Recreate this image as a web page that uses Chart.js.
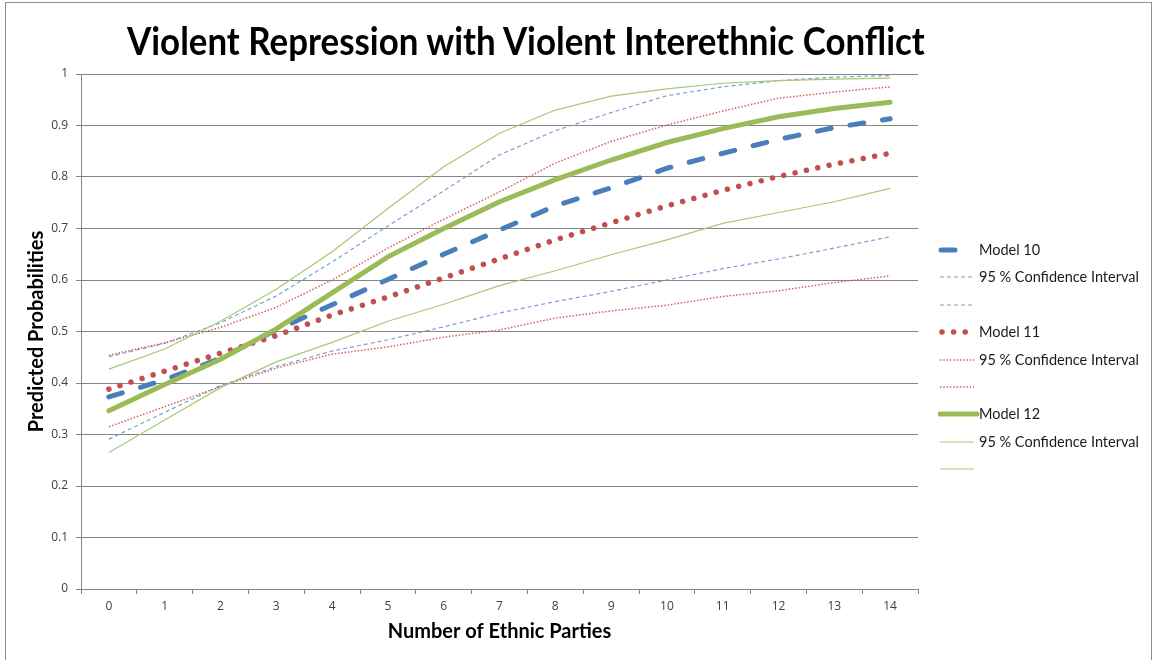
<!DOCTYPE html>
<html>
<head>
<meta charset="utf-8">
<title>Violent Repression with Violent Interethnic Conflict</title>
<script src="https://cdn.jsdelivr.net/npm/chart.js@4.4.1/dist/chart.umd.min.js"></script>
<style>
  html, body { margin: 0; padding: 0; background: #fff; }
  #wrap { position: relative; width: 1155px; height: 660px; overflow: hidden; }
  #frame { position: absolute; left: 5px; top: 2px; width: 1145px; height: 720px; border: 1px solid #8e8e8e; }
  #title {
    position: absolute; left: 526px; top: 16px; white-space: nowrap;
    font-family: Lato, "Open Sans", sans-serif;
    font-weight: bold; font-size: 39px; line-height: 48px; color: #000;
    transform-origin: 0 0;
  }
  #chart { position: absolute; left: 0; top: 0; }
  .row { position: absolute; left: 938px; height: 20px; }
  .row svg { position: absolute; left: 0; top: 4px; }
  .row span {
    position: absolute; left: 41px; top: 0px; white-space: nowrap;
    font-family: Lato, "Open Sans", sans-serif; font-size: 14.5px; line-height: 20px; color: #1a1a1a;
  }
</style>
</head>
<body>
<div id="wrap">
  <div id="frame"></div>
  <canvas id="chart" width="1155" height="660"></canvas>
  <div id="title">Violent Repression with Violent Interethnic Conflict</div>
  <div id="legend"></div>
</div>
<script>
// values
const categories = ['0', '1', '2', '3', '4', '5', '6', '7', '8', '9', '10', '11', '12', '13', '14'];
const yTickLabels = ['0', '0.1', '0.2', '0.3', '0.4', '0.5', '0.6', '0.7', '0.8', '0.9', '1'];

const model10 = [0.373, 0.406, 0.448, 0.503, 0.552, 0.601, 0.650, 0.697, 0.744, 0.779, 0.817, 0.846, 0.873, 0.896, 0.913];
const model10Upper = [0.451, 0.477, 0.517, 0.569, 0.635, 0.705, 0.773, 0.843, 0.890, 0.925, 0.958, 0.975, 0.987, 0.994, 0.997];
const model10Lower = [0.291, 0.343, 0.395, 0.432, 0.462, 0.484, 0.509, 0.536, 0.558, 0.578, 0.600, 0.622, 0.641, 0.662, 0.684];

const model11 = [0.388, 0.423, 0.458, 0.492, 0.532, 0.567, 0.604, 0.641, 0.678, 0.711, 0.744, 0.774, 0.801, 0.825, 0.846];
const model11Upper = [0.454, 0.478, 0.508, 0.547, 0.600, 0.662, 0.718, 0.771, 0.827, 0.869, 0.901, 0.928, 0.953, 0.965, 0.975];
const model11Lower = [0.315, 0.354, 0.393, 0.429, 0.456, 0.470, 0.489, 0.503, 0.526, 0.540, 0.551, 0.568, 0.579, 0.595, 0.608];

const model12 = [0.346, 0.397, 0.446, 0.505, 0.575, 0.645, 0.700, 0.752, 0.795, 0.833, 0.867, 0.894, 0.917, 0.933, 0.945];
const model12Upper = [0.427, 0.466, 0.520, 0.582, 0.655, 0.739, 0.820, 0.885, 0.930, 0.957, 0.971, 0.982, 0.987, 0.990, 0.992];
const model12Lower = [0.265, 0.328, 0.391, 0.441, 0.479, 0.520, 0.553, 0.589, 0.618, 0.649, 0.678, 0.710, 0.731, 0.752, 0.778];

const ciLabel = '95 % Confidence Interval';

// line style helper
const line = (label, data, color, width, dash, cap, sample) => ({
  label,
  data,
  borderColor: color,
  backgroundColor: color,
  borderWidth: width,
  borderDash: dash,
  borderCapStyle: cap,
  pointRadius: 0,
  pointHoverRadius: 0,
  tension: 0,
  fill: false,
  sample
});

// sample = [x1, x2] of the legend swatch
const datasets = [
  line('Model 10', model10, '#4a7ebb', 5, [14, 19], 'round', [3, 18]),
  line(ciLabel, model10Upper, '#7a9fd4', 1.2, [4, 3], 'butt', [2, 36]),
  line('', model10Lower, '#7a9fd4', 1.2, [4, 3], 'butt', [2, 36]),
  line('Model 11', model11, '#c0504d', 5.5, [0.01, 11.6], 'round', [4, 30]),
  line(ciLabel, model11Upper, '#d4605e', 1.5, [1.5, 1.8], 'butt', [2, 36]),
  line('', model11Lower, '#d4605e', 1.5, [1.5, 1.8], 'butt', [2, 36]),
  line('Model 12', model12, '#9bbb59', 5, [], 'round', [2, 39]),
  line(ciLabel, model12Upper, '#a9c774', 1.2, [], 'butt', [2, 36]),
  line('', model12Lower, '#a9c774', 1.2, [], 'butt', [2, 36])
];
// later series on top, like the original
datasets.forEach((d, i) => { d.order = datasets.length - i; });

const axisGrey = '#868686';
const tickFont = { family: 'Open Sans', size: 12 };
const axisTitleFont = { family: 'Lato', weight: 'bold', size: 20 };

new Chart(document.getElementById('chart').getContext('2d'), {
  type: 'line',
  data: { labels: categories, datasets },
  options: {
    responsive: false,
    animation: false,
    events: [],
    layout: { padding: { left: 8, right: 237, top: 74, bottom: 8 } },
    plugins: {
      legend: { display: false },
      tooltip: { enabled: false },
      title: { display: false }
    },
    scales: {
      x: {
        offset: true,
        grid: { offset: true, drawOnChartArea: false, drawTicks: true, tickLength: 5, color: axisGrey },
        border: { color: axisGrey },
        ticks: { color: '#404040', font: tickFont, padding: 5, maxRotation: 0, autoSkip: false },
        title: {
          display: true, text: 'Number of Ethnic Parties', color: '#000',
          font: axisTitleFont, padding: { top: 0, bottom: 8 }
        },
        afterFit: (s) => { s.height = 63; }
      },
      y: {
        min: 0,
        max: 1,
        grid: { color: axisGrey, tickLength: 5 },
        border: { color: axisGrey },
        ticks: {
          stepSize: 0.1, color: '#404040', font: tickFont, padding: 8,
          callback: (v, i) => yTickLabels[i]
        },
        title: {
          display: true, text: 'Predicted Probabilities', color: '#000',
          font: axisTitleFont, padding: { top: 17, bottom: 0 }
        },
        afterFit: (s) => { s.width = 73; }
      }
    }
  }
});

// title: condensed to the width it has in the original
const title = document.getElementById('title');
const fitTitle = () => {
  const w = title.offsetWidth;
  const sx = 798 / w;
  title.style.transform = 'translateX(' + (-399) + 'px) scaleX(' + sx + ')';
};
fitTitle();
if (document.fonts) document.fonts.ready.then(fitTitle);

// legend on the right, built from the datasets
const legend = document.getElementById('legend');
datasets.forEach((d, i) => {
  const row = document.createElement('div');
  row.className = 'row';
  row.style.top = (240 + i * 27.4) + 'px';
  const dash = d.borderDash.length ? d.borderDash.join(' ') : 'none';
  row.innerHTML =
    '<svg width="42" height="12"><line x1="' + d.sample[0] + '" y1="6" x2="' + d.sample[1] + '" y2="6" stroke="' + d.borderColor +
    '" stroke-width="' + d.borderWidth + '" stroke-dasharray="' + dash + '" stroke-linecap="' + d.borderCapStyle +
    '"/></svg><span>' + d.label + '</span>';
  legend.appendChild(row);
});
</script>
</body>
</html>
